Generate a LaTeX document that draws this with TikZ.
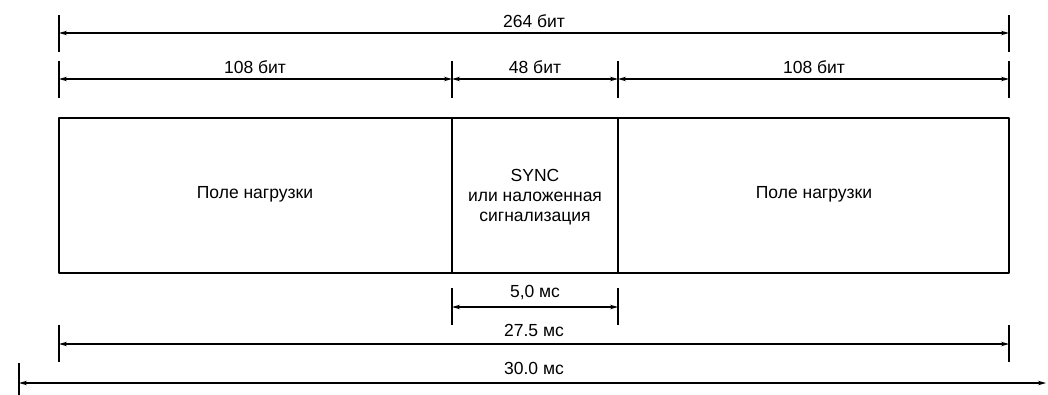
\documentclass[tikz,border=0pt]{standalone}
\usepackage{fontspec}
\setmainfont{Liberation Sans}
\usetikzlibrary{arrows.meta}

\begin{document}
\begin{tikzpicture}[x=1pt, y=-1pt, line join=round, >={Stealth[length=8pt, width=4.5pt]},
    dim/.style={<->, line width=1.2pt},
    dimtick/.style={line width=1.3pt},
    lbl/.style={font=\fontsize{17.5}{20}\selectfont, inner sep=1pt}]
    \useasboundingbox (0,0) rectangle (1048,394);
    % frame
    \coordinate (A) at (59,118);
    \coordinate (B) at (1009,273);
    \coordinate (S1) at (452,118);
    \coordinate (S2) at (618,118);
    \coordinate (E1) at (452,273);
    \coordinate (E2) at (618,273);
    \draw[line width=2pt] (A) rectangle (B);
    \draw[line width=1.6pt] (S1) -- (E1);
    \draw[line width=1.6pt] (S2) -- (E2);
    \node[lbl] (load1) at (255,194) {Поле нагрузки};
    \node[lbl, align=center] (sync) at (535,197) {SYNC\\или наложенная\\сигнализация};
    \node[lbl] (load2) at (814,194) {Поле нагрузки};
    % bits
    \coordinate (T1) at (59,33);
    \coordinate (T2) at (1009,33);
    \coordinate (U1) at (59,79);
    \coordinate (U2) at (452,79);
    \coordinate (U3) at (618,79);
    \coordinate (U4) at (1009,79);
    \draw[dim] (T1) -- (T2);
    \draw[dim] (U1) -- (U2);
    \draw[dim] (U2) -- (U3);
    \draw[dim] (U3) -- (U4);
    \foreach \p in {T1,T2,U1,U2,U3,U4}
        \draw[dimtick] ([yshift=18pt]\p) -- ([yshift=-19pt]\p);
    \node[lbl] (bits) at (534,21) {264 бит};
    \node[lbl] (bits1) at (255,67) {108 бит};
    \node[lbl] (bits2) at (535,67) {48 бит};
    \node[lbl] (bits3) at (814,67) {108 бит};
    % times
    \coordinate (V1) at (452,307);
    \coordinate (V2) at (618,307);
    \coordinate (W1) at (59,344);
    \coordinate (W2) at (1009,344);
    \coordinate (Z1) at (19,383);
    \coordinate (Z2) at (1046,383);
    \draw[dim] (V1) -- (V2);
    \draw[dim] (W1) -- (W2);
    \draw[dim] (Z1) -- (Z2);
    \foreach \p in {V1,V2,W1,W2}
        \draw[dimtick] ([yshift=19pt]\p) -- ([yshift=-18pt]\p);
    \draw[dimtick] ([yshift=20pt]Z1) -- ([yshift=-12pt]Z1);
    \node[lbl] (t5) at (535,293) {5,0 мс};
    \node[lbl] (t27) at (534,330) {27.5 мс};
    \node[lbl] (t30) at (534,368) {30.0 мс};
\end{tikzpicture}
\end{document}
